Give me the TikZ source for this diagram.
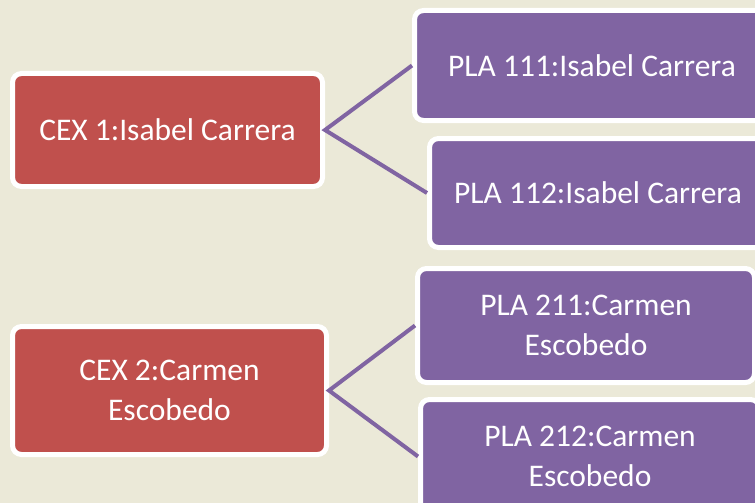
\documentclass[tikz,border=0pt]{standalone}
\usepackage{fontspec}
\setmainfont{Carlito}
\definecolor{bgc}{HTML}{EBE9D8}
\definecolor{redc}{HTML}{C0504D}
\definecolor{purc}{HTML}{8064A2}
\tikzset{
  box/.style={draw=white, line width=5pt, rounded corners=9pt, text=white,
    align=center, inner sep=0pt, font=\fontsize{31.5}{40}\selectfont},
  redbox/.style={box, fill=redc},
  purbox/.style={box, fill=purc},
  conn/.style={draw=purc, line width=4pt}
}
\begin{document}
\begin{tikzpicture}[x=1pt,y=-1pt]
\useasboundingbox (0,0) rectangle (755,503);
\fill[bgc] (0,0) rectangle (755,503);
\clip (0,0) rectangle (755,503);
\node[redbox, minimum width=310pt, minimum height=113pt] (cex1) at (167.5,130) {CEX 1:Isabel Carrera};
\node[redbox, minimum width=314pt, minimum height=128pt] (cex2) at (169.5,390.5) {CEX 2:Carmen\\Escobedo};
\node[purbox, minimum width=355pt, minimum height=110pt] (p111) at (592,65.5) {PLA 111:Isabel Carrera};
\node[purbox, minimum width=337pt, minimum height=109pt] (p112) at (598,193) {PLA 112:Isabel Carrera};
\node[purbox, minimum width=337pt, minimum height=114pt] (p211) at (586,325.5) {PLA 211:Carmen\\Escobedo};
\node[purbox, minimum width=339pt, minimum height=114pt] (p212) at (590,456.5) {PLA 212:Carmen\\Escobedo};
\draw[conn] (p111.west) -- (cex1.east) -- (p112.west);
\draw[conn] (p211.west) -- (cex2.east) -- (p212.west);
\end{tikzpicture}
\end{document}
